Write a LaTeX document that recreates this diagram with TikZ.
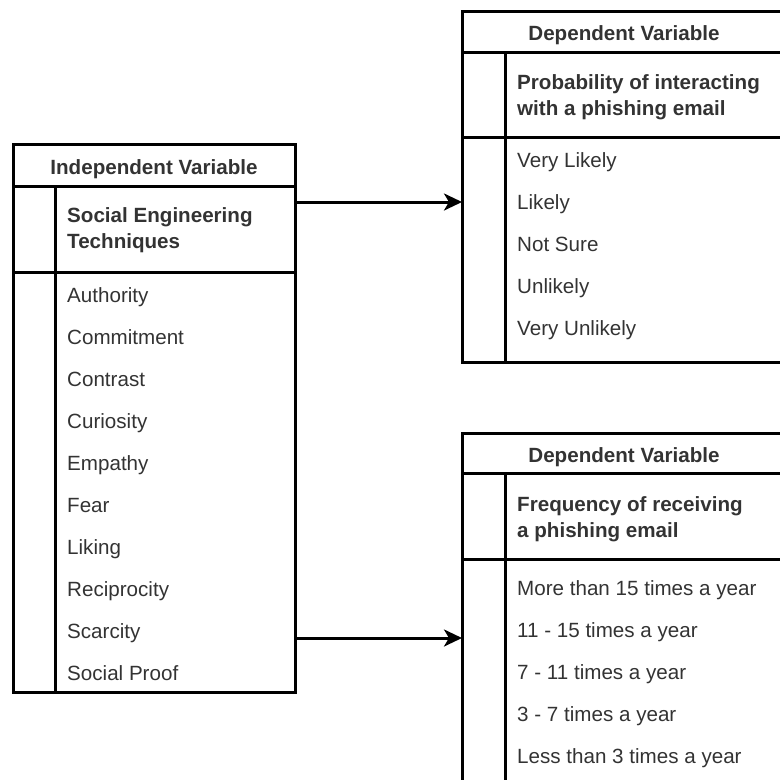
\documentclass[tikz,border=0pt]{standalone}
\usepackage{fontspec}
\setmainfont{Liberation Sans}
\usetikzlibrary{arrows.meta}
\definecolor{ink}{HTML}{333333}
\newcommand{\tabfont}{\fontsize{20.6}{26}\selectfont}
\tikzset{
  frame/.style={draw=black, line width=3pt, inner sep=0pt, outer sep=0pt, anchor=north west},
  rule/.style={draw=black, line width=3pt},
  headtext/.style={font=\tabfont\bfseries, text=ink, inner sep=0pt, anchor=base},
  % base anchor of a two-line node sits on the baseline of its last line
  subtext/.style={font=\tabfont\bfseries, text=ink, inner sep=0pt, anchor=base west, align=left},
  itemtext/.style={font=\tabfont, text=ink, inner sep=0pt, anchor=base west},
  conn/.style={draw=black, line width=3pt, -{Stealth[length=18pt, width=17pt, inset=5pt]}}
}
\begin{document}
\begin{tikzpicture}[x=1pt, y=-1pt]
\useasboundingbox (0,0) rectangle (780,780);
\clip (0,0) rectangle (780,780);

% ---- independent variable table ----
\node[frame, minimum width=282pt, minimum height=548pt] (indep) at (13,144) {};
\draw[rule] (indep.west |- 0,186) -- (indep.east |- 0,186);
\draw[rule] (indep.west |- 0,272) -- (indep.east |- 0,272);
\draw[rule] (55,186) -- (55,0 |- indep.south);
\node[headtext] (indephead) at (154,174) {Independent Variable};
\node[subtext] (indepsub) at (67,248) {Social Engineering\\Techniques};
\foreach \t [count=\i] in {Authority, Commitment, Contrast, Curiosity, Empathy,
    Fear, Liking, Reciprocity, Scarcity, Social Proof}
  \node[itemtext] (indep-\i) at (67, {302+42*(\i-1)}) {\t};

% ---- dependent variable: probability ----
\node[frame, minimum width=324pt, minimum height=351pt] (depa) at (462,11) {};
\draw[rule] (depa.west |- 0,52) -- (depa.east |- 0,52);
\draw[rule] (depa.west |- 0,137) -- (depa.east |- 0,137);
\draw[rule] (505,52) -- (505,0 |- depa.south);
\node[headtext] (depahead) at (624,40) {Dependent Variable};
\node[subtext] (depasub) at (517,115) {Probability of interacting\\with a phishing email};
\foreach \t [count=\i] in {Very Likely, Likely, Not Sure, Unlikely, Very Unlikely}
  \node[itemtext] (depa-\i) at (517, {167+42*(\i-1)}) {\t};

% ---- dependent variable: frequency ----
\node[frame, minimum width=324pt, minimum height=372pt] (depb) at (462,433) {};
\draw[rule] (depb.west |- 0,473) -- (depb.east |- 0,473);
\draw[rule] (depb.west |- 0,559) -- (depb.east |- 0,559);
\draw[rule] (505,473) -- (505,0 |- depb.south);
\node[headtext] (depbhead) at (624,462) {Dependent Variable};
\node[subtext] (depbsub) at (517,537) {Frequency of receiving\\a phishing email};
\foreach \t [count=\i] in {More than 15 times a year, 11 - 15 times a year,
    7 - 11 times a year, 3 - 7 times a year, Less than 3 times a year}
  \node[itemtext] (depb-\i) at (517, {595+42*(\i-1)}) {\t};

% ---- connectors ----
\coordinate (ya) at (0,202);
\coordinate (yb) at (0,638);
\draw[conn] (indep.east |- ya) -- (depa.west |- ya);
\draw[conn] (indep.east |- yb) -- (depb.west |- yb);
\end{tikzpicture}
\end{document}
